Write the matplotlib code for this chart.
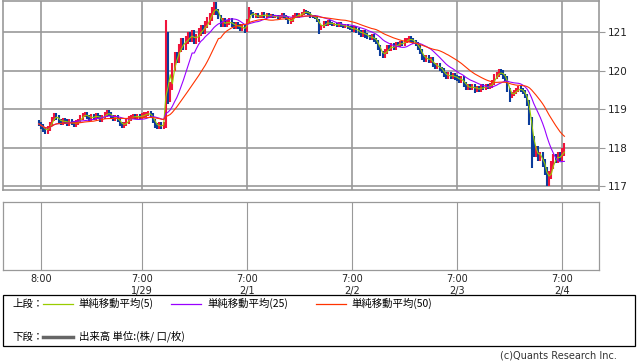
import numpy as np
import pandas as pd
import matplotlib
matplotlib.use("Agg")
import matplotlib.pyplot as plt
from matplotlib.lines import Line2D
from matplotlib.patches import Rectangle

# 30-minute closes, 1/28 7:30 -> 2/4 ~8:30
closes = [
    118.62, 118.55, 118.48, 118.43, 118.50, 118.62, 118.75, 118.85, 118.78, 118.70,
    118.66, 118.72, 118.68, 118.62, 118.70, 118.64, 118.60, 118.65, 118.70, 118.78,
    118.85, 118.88, 118.80, 118.76, 118.82, 118.78, 118.85, 118.80, 118.74, 118.80,
    118.86, 118.92, 118.88, 118.80, 118.76, 118.80, 118.72, 118.62, 118.58, 118.62,
    118.68, 118.76, 118.80, 118.82, 118.80, 118.82, 118.80, 118.84, 118.86, 118.88,
    118.90, 118.85, 118.70, 118.58, 118.55, 118.60, 118.56, 118.62, 120.80, 119.30,
    119.60, 120.10, 120.40, 120.30, 120.60, 120.75, 120.65, 120.80, 120.90, 120.85,
    120.95, 120.80, 120.85, 121.00, 121.10, 121.05, 121.20, 121.30, 121.40, 121.55,
    121.68, 121.55, 121.40, 121.20, 121.30, 121.20, 121.25, 121.30, 121.20, 121.15,
    121.20, 121.15, 121.10, 121.15, 121.05, 121.30, 121.55, 121.50, 121.40, 121.45,
    121.40, 121.42, 121.48, 121.42, 121.45, 121.40, 121.44, 121.40, 121.42, 121.38,
    121.42, 121.45, 121.40, 121.35, 121.25, 121.30, 121.40, 121.45, 121.42, 121.45,
    121.50, 121.55, 121.52, 121.48, 121.42, 121.40, 121.38, 121.30, 121.10, 121.15,
    121.25, 121.20, 121.28, 121.22, 121.20, 121.20, 121.18, 121.22, 121.18, 121.15,
    121.18, 121.12, 121.10, 121.08, 121.10, 121.05, 121.00, 120.95, 121.00, 120.92,
    120.88, 120.85, 120.90, 120.80, 120.75, 120.60, 120.45, 120.38, 120.50, 120.60,
    120.58, 120.65, 120.60, 120.70, 120.68, 120.72, 120.70, 120.78, 120.80, 120.84,
    120.80, 120.75, 120.70, 120.60, 120.50, 120.35, 120.30, 120.35, 120.25, 120.30,
    120.15, 120.10, 120.15, 120.05, 120.00, 119.90, 119.85, 119.90, 119.85, 119.88,
    119.82, 119.80, 119.75, 119.80, 119.65, 119.55, 119.60, 119.55, 119.60, 119.52,
    119.55, 119.50, 119.60, 119.55, 119.60, 119.58, 119.62, 119.70, 119.85, 119.90,
    119.98, 119.95, 119.85, 119.80, 119.50, 119.35, 119.40, 119.45, 119.50, 119.55,
    119.50, 119.45, 119.35, 119.15, 118.70, 118.20, 117.85, 117.95, 117.75, 117.80,
    117.60, 117.40, 117.10, 117.30, 117.55, 117.75, 117.70, 117.80, 117.75, 117.90, 118.02,
]
first_open = 118.65
# typical wick size per stretch of bars (start, end, yen)
typical_wick = [(0, 58, 0.06), (58, 82, 0.10), (82, 95, 0.06), (95, 143, 0.04),
                (143, 191, 0.06), (191, 224, 0.06), (224, 241, 0.10)]
# visible spikes
wick_hi = {58: 121.32, 59: 121.0, 80: 121.75, 96: 121.65, 121: 121.6, 210: 120.02}
wick_lo = {59: 119.15, 128: 120.96, 157: 120.33, 199: 119.43, 215: 119.2,
           225: 117.47, 232: 117.02}

ma_periods = [5, 25, 50]
ma_colors = ["#99cc00", "#9900ff", "#ff3300"]
chart_bar_min = 15   # the original chart uses 15-minute bars
data_bar_min = 30    # our readings are every 30 minutes

tick_pos = [1, 47, 95, 143, 191, 239]
tick_labels = ["8:00", "7:00\n1/29", "7:00\n2/1", "7:00\n2/2", "7:00\n2/3", "7:00\n2/4"]
y_ticks = [117, 118, 119, 120, 121]

W, H = 638, 362
fig = plt.figure(figsize=(W / 100, H / 100), dpi=100)
jp = ["Noto Sans CJK JP", "DejaVu Sans"]


def px_axes(x0, y0, x1, y1):
    return fig.add_axes([x0 / W, 1 - y1 / H, (x1 - x0) / W, (y1 - y0) / H])


grid_c = "#999999"
xlim = (-16.35, 255.65)

# ---- upper panel: price ----
ax = px_axes(3, 0.8, 598.7, 190)
c = np.array(closes)
o = np.r_[first_open, c[:-1]]
hi = np.maximum(o, c)
lo = np.minimum(o, c)
for a, b, wk in typical_wick:
    hi[a:b] += wk
    lo[a:b] -= wk
for k, v in wick_hi.items():
    hi[k] = max(hi[k], v)
for k, v in wick_lo.items():
    lo[k] = min(lo[k], v)
x = np.arange(len(c))
cols = np.where(c >= o, "#f0143c", "#0b3c9c")
ax.vlines(x, lo, hi, colors=cols, linewidth=1.5, zorder=3)

s = pd.Series(closes)
for p, col in zip(ma_periods, ma_colors):
    w = int(np.ceil(p * chart_bar_min / data_bar_min))
    ma = s.rolling(w, min_periods=1).mean()
    ax.plot(x, ma, color=col, lw=0.8, zorder=4)

ax.set_xlim(*xlim)
ax.set_ylim(116.904, 121.818)
ax.set_xticks(tick_pos)
ax.set_yticks(y_ticks)
ax.yaxis.tick_right()
ax.tick_params(axis="x", length=0, labelbottom=False)
ax.tick_params(axis="y", length=4.5, width=0.8, color=grid_c, labelsize=7.5,
               labelcolor="#222222", pad=2)
ax.grid(True, color=grid_c, lw=1.2, zorder=1)
for sp in ax.spines.values():
    sp.set_color(grid_c)
    sp.set_linewidth(1.2)

# ---- lower panel: volume (empty) ----
ax2 = px_axes(3, 202, 598.7, 270)
ax2.set_xlim(*xlim)
ax2.set_ylim(0, 1)
ax2.set_xticks(tick_pos)
ax2.set_xticklabels(tick_labels)
ax2.set_yticks([])
ax2.tick_params(axis="x", length=0, labelsize=7, labelcolor="#222222", pad=3)
ax2.grid(True, axis="x", color=grid_c, lw=0.8)
for sp in ax2.spines.values():
    sp.set_color(grid_c)
    sp.set_linewidth(0.9)

# ---- legend box ----
fig.add_artist(Rectangle((3 / W, 1 - 346 / H), 632 / W, 51 / H, fill=False,
                         ec="black", lw=0.9, transform=fig.transFigure))


def fx(v):
    return v / W


def fy(v):
    return 1 - v / H


row1, row2 = 303.5, 336.5
fig.text(fx(12), fy(row1), "上段：", family=jp, fontsize=7.5, va="center")
legend_items = [(43, 73, 78, "単純移動平均(5)"),
                (171, 201, 207, "単純移動平均(25)"),
                (316, 346, 351, "単純移動平均(50)")]
for (l0, l1, tx, label), col in zip(legend_items, ma_colors):
    fig.add_artist(Line2D([fx(l0), fx(l1)], [fy(row1)] * 2, color=col, lw=0.9,
                          transform=fig.transFigure))
    fig.text(fx(tx), fy(row1), label, family=jp, fontsize=7.5, va="center")

fig.text(fx(12), fy(row2), "下段：", family=jp, fontsize=7.5, va="center")
fig.add_artist(Line2D([fx(43), fx(73)], [fy(row2)] * 2, color="#666666", lw=2.5,
                      transform=fig.transFigure))
fig.text(fx(79), fy(row2), "出来高 単位:(株/ 口/枚)", family=jp, fontsize=7.5, va="center")

fig.text(fx(617), fy(356), "(c)Quants Research Inc.", fontsize=7, color="#333333",
         ha="right", va="center")

fig.savefig("out.png", dpi=100)
